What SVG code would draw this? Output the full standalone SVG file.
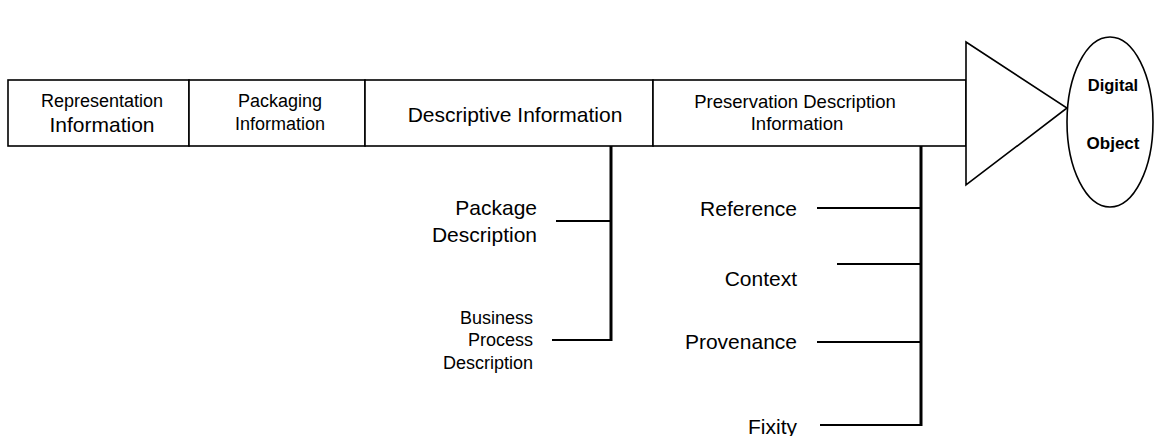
<svg xmlns="http://www.w3.org/2000/svg" width="1155" height="436" viewBox="0 0 1155 436">
  <style>
    .box { fill: #fff; stroke: #000; stroke-width: 1.6; }
    .t { font-family: "Liberation Sans", Arial, sans-serif; fill: #000; }
    .c { text-anchor: middle; }
    .r { text-anchor: end; }
    .trunk { stroke: #000; stroke-width: 3; fill: none; }
    .branch { stroke: #000; stroke-width: 2; fill: none; }
  </style>
  <rect width="1155" height="436" fill="#fff"/>

  <g id="representation-information">
    <rect class="box" x="8" y="80" width="181" height="66"/>
    <text class="t c" x="102" y="107" font-size="18">Representation</text>
    <text class="t c" x="102" y="132" font-size="21">Information</text>
  </g>

  <g id="packaging-information">
    <rect class="box" x="189" y="80" width="176" height="66"/>
    <text class="t c" x="280" y="107" font-size="18">Packaging</text>
    <text class="t c" x="280" y="130" font-size="18">Information</text>
  </g>

  <g id="descriptive-information">
    <rect class="box" x="365" y="80" width="288" height="66"/>
    <text class="t c" x="515" y="122" font-size="21">Descriptive Information</text>
  </g>

  <g id="preservation-description-information">
    <rect class="box" x="653" y="80" width="313" height="66"/>
    <text class="t c" x="795" y="108" font-size="18.5">Preservation Description</text>
    <text class="t c" x="797" y="130" font-size="18.5">Information</text>
  </g>

  <g id="arrow-head">
    <polygon class="box" points="966,42 1067,108 966,185"/>
  </g>

  <g id="digital-object">
    <ellipse class="box" cx="1110" cy="122" rx="43" ry="85"/>
    <text class="t c" x="1113" y="91" font-size="16.5" font-weight="bold">Digital</text>
    <text class="t c" x="1113" y="149" font-size="17" font-weight="bold">Object</text>
  </g>

  <g id="connectors">
    <!-- Descriptive Information breakdown -->
    <path class="trunk" d="M611,146 V341"/>
    <path class="branch" d="M556,221 H611 M552,340 H611"/>
    <!-- Preservation Description Information breakdown -->
    <path class="trunk" d="M921,146 V426"/>
    <path class="branch" d="M817,208 H921 M837,264 H921 M817,342 H921 M820,425 H921"/>
  </g>

  <g id="package-description">
    <text class="t r" x="537" y="215" font-size="21">Package</text>
    <text class="t r" x="537" y="242" font-size="21">Description</text>
  </g>

  <g id="business-process-description">
    <text class="t r" x="533" y="324" font-size="18">Business</text>
    <text class="t r" x="533" y="346" font-size="18">Process</text>
    <text class="t r" x="533" y="369" font-size="18">Description</text>
  </g>

  <g id="reference">
    <text class="t r" x="797" y="216" font-size="21">Reference</text>
  </g>
  <g id="context">
    <text class="t r" x="797" y="286" font-size="21">Context</text>
  </g>
  <g id="provenance">
    <text class="t r" x="797" y="349" font-size="21">Provenance</text>
  </g>
  <g id="fixity">
    <text class="t r" x="797" y="434" font-size="21">Fixity</text>
  </g>
</svg>
